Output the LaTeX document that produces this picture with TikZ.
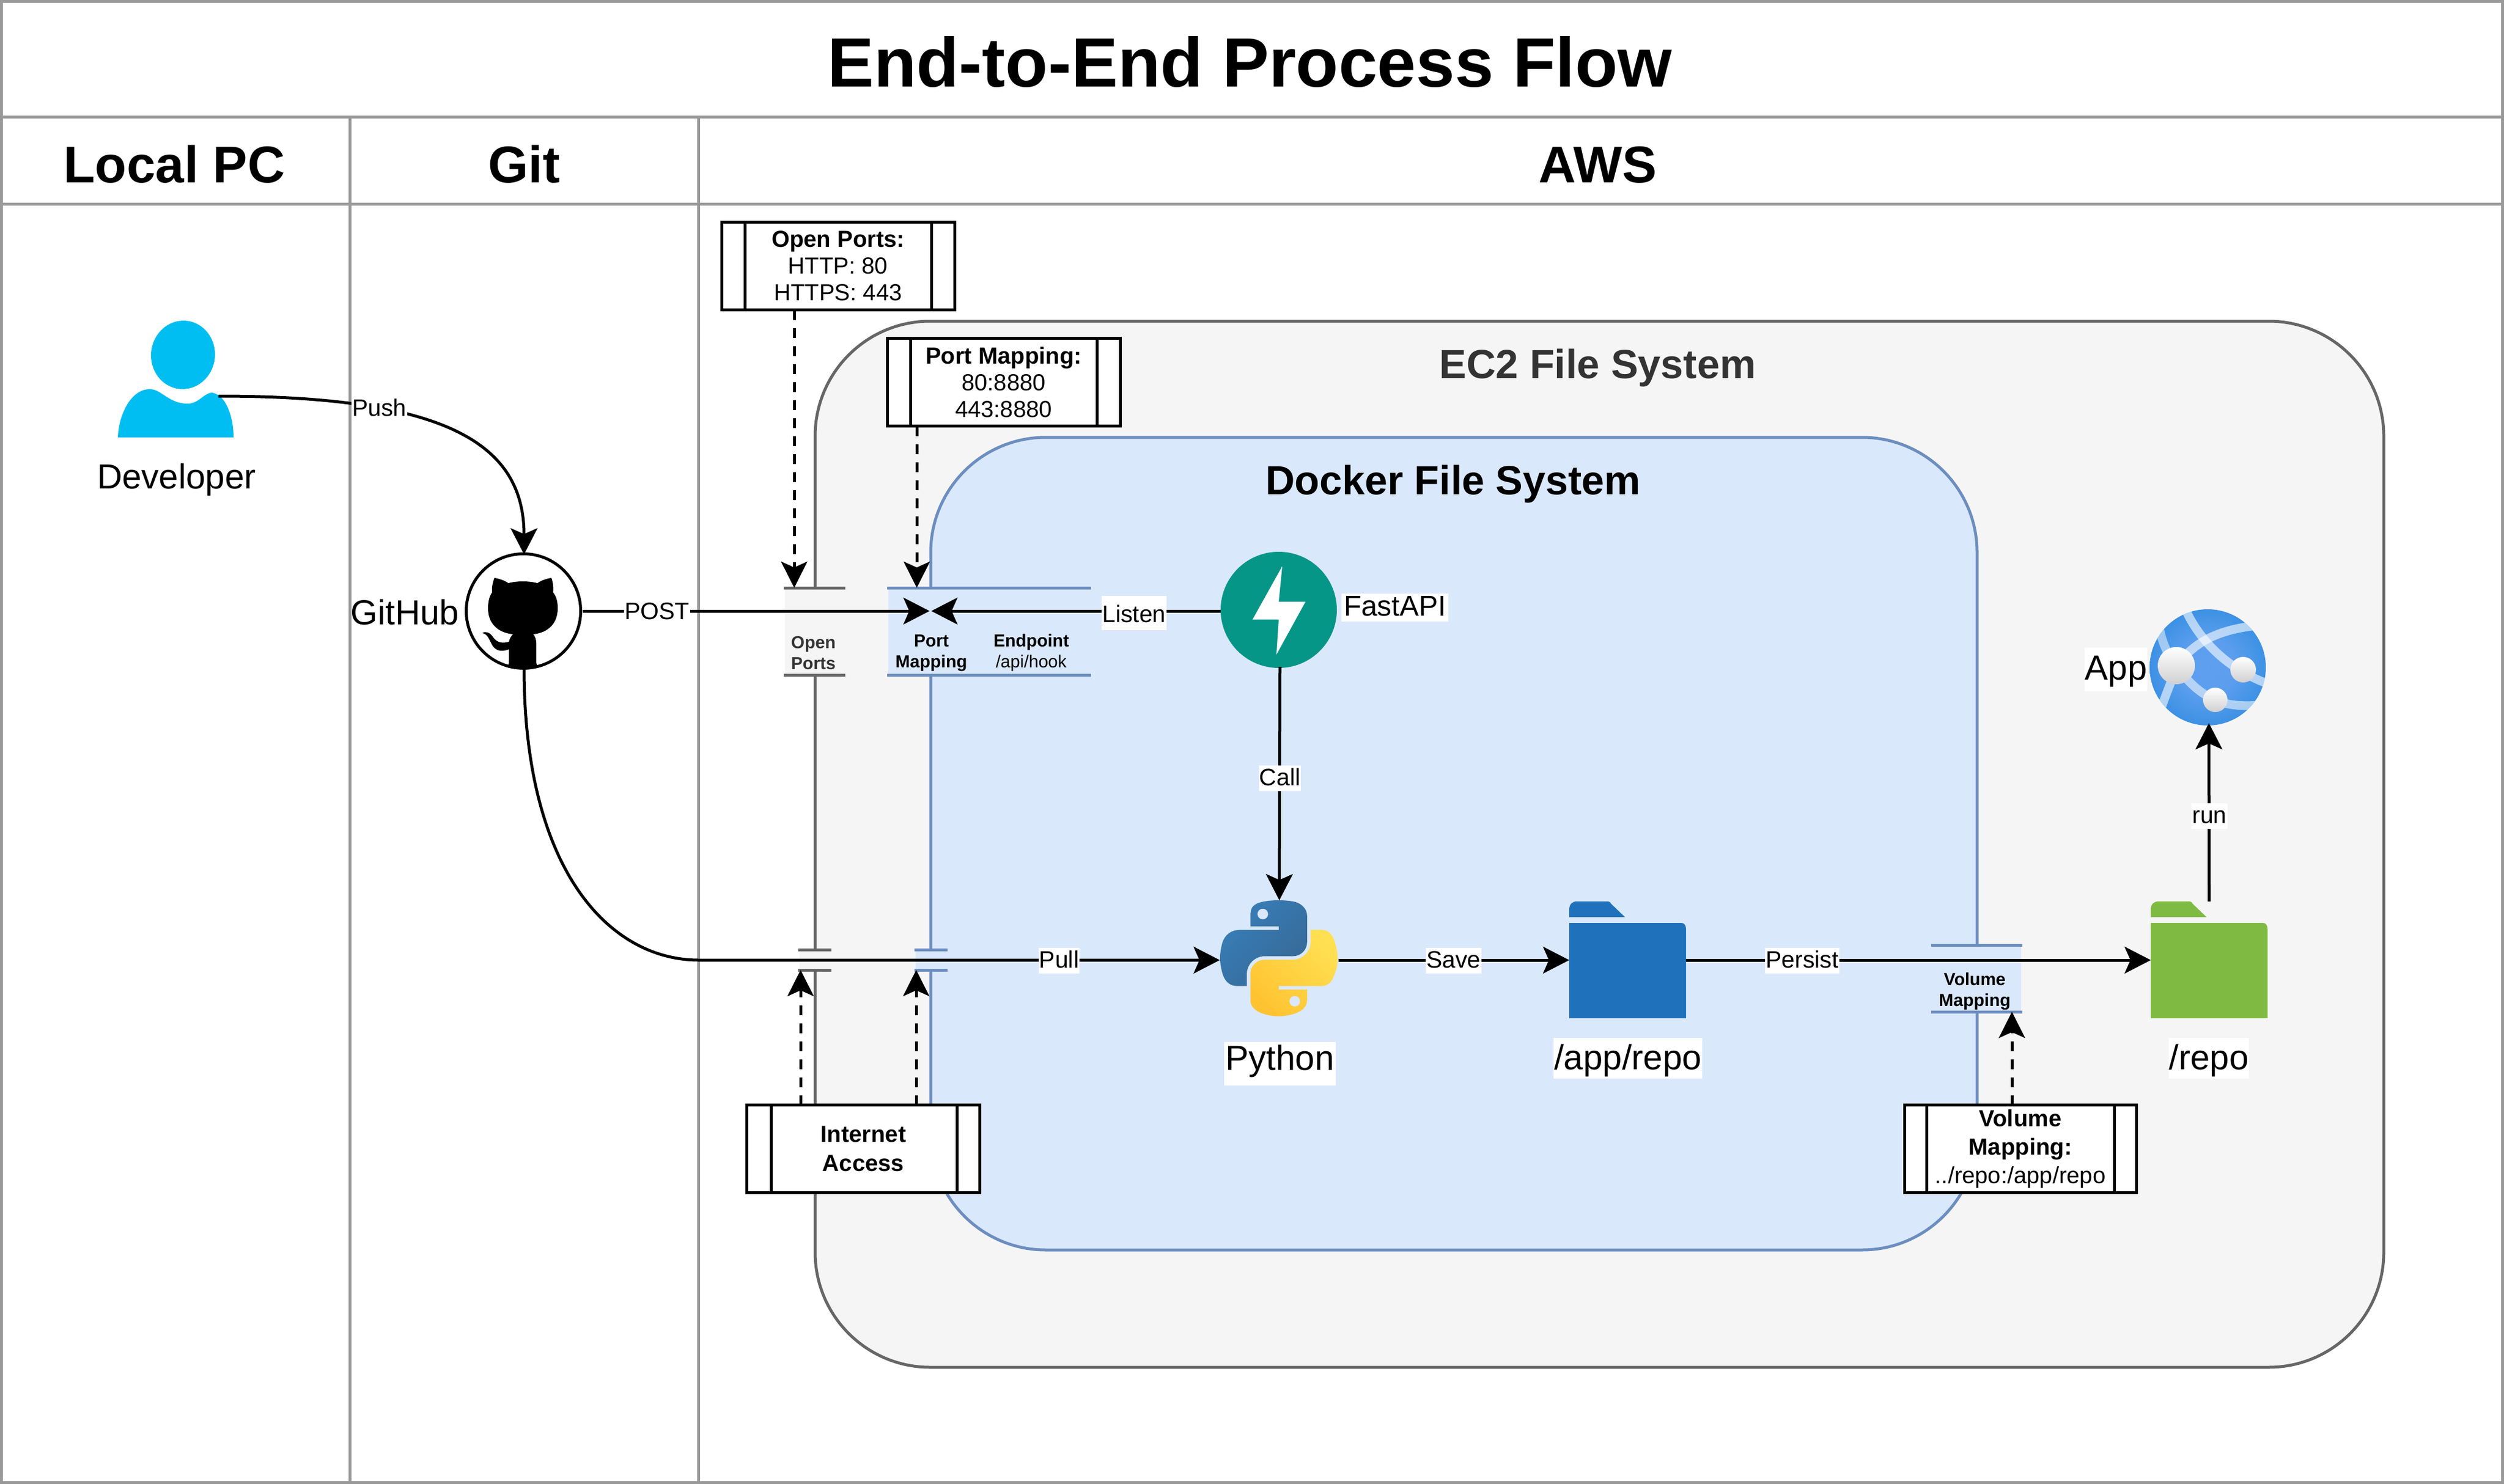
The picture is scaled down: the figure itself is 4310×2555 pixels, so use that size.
\documentclass[tikz,border=0pt]{standalone}
\usepackage{fontspec}
\setmainfont{Liberation Sans}
\usetikzlibrary{arrows.meta,shapes.geometric}
\newcommand\fsz[2]{\fontsize{#1}{#2}\selectfont}
\definecolor{frame}{HTML}{999999}
\definecolor{ecfill}{HTML}{F5F5F5}
\definecolor{ecline}{HTML}{666666}
\definecolor{dkfill}{HTML}{DAE8FC}
\definecolor{dkline}{HTML}{6C8EBF}
\definecolor{txtdark}{HTML}{333333}
\definecolor{devblue}{HTML}{00BEF2}
\definecolor{fastgreen}{HTML}{059688}
\definecolor{folderblue}{HTML}{1F71BB}
\definecolor{foldergreen}{HTML}{7FBB42}
\pgfdeclareradialshading{appglobe}{\pgfpoint{0bp}{0bp}}{rgb(0bp)=(0.37,0.63,0.94);rgb(12bp)=(0.36,0.62,0.93);rgb(50bp)=(0,0.47,0.83)}
\tikzset{
  flow/.style={line width=5pt,-{Stealth[length=45pt,width=46pt,inset=10pt]}},
  dashflow/.style={line width=5pt,dash pattern=on 17pt off 14pt,-{Stealth[length=45pt,width=45pt,inset=10pt]}},
  framed/.style={draw=frame,line width=5pt},
  procbox/.style={draw=black,fill=white,line width=5pt,inner sep=0pt,outer sep=0pt,align=center,font=\fsz{40}{46}},
  proccol/.style={draw=black,line width=5pt},
  edgelabel/.style={fill=white,inner xsep=1pt,inner ysep=0pt,anchor=base,text height=34pt,text depth=10pt,font=\fsz{41}{41}},
  namelabel/.style={fill=white,inner xsep=1pt,inner ysep=0pt,anchor=base,text height=46pt,text depth=16pt,font=\fsz{60}{60}},
  iconbox/.style={inner sep=0pt,outer sep=0pt},
  graybar/.style={fill=ecfill,inner sep=0pt,outer sep=0pt},
  bluebar/.style={fill=dkfill,inner sep=0pt,outer sep=0pt},
  grayedge/.style={draw=ecline,line width=5pt},
  blueedge/.style={draw=dkline,line width=5pt},
  smalltext/.style={inner sep=0pt,align=center,font=\fsz{30}{36}\bfseries},
}
\begin{document}
\begin{tikzpicture}[x=1pt,y=-1pt]
\useasboundingbox (0,0) rectangle (4310,2555);
\fill[white] (0,0) rectangle (4310,2555);
% swimlane frame
\draw[framed] (2.5,2.5) rectangle (4307.5,2552.5);
\coordinate (titleL) at (2.5,201.5);
\coordinate (titleR) at (4307.5,201.5);
\coordinate (headL) at (2.5,352);
\coordinate (headR) at (4307.5,352);
\coordinate (laneAtop) at (602,201);
\coordinate (laneAbot) at (602,2552);
\coordinate (laneBtop) at (1202.5,201);
\coordinate (laneBbot) at (1202.5,2552);
\draw[framed] (titleL) -- (titleR);
\draw[framed] (headL) -- (headR);
\draw[framed] (laneAtop) -- (laneAbot);
\draw[framed] (laneBtop) -- (laneBbot);
\node[anchor=base,font=\fsz{120}{120}\bfseries,inner sep=0pt] (title) at (2151,150) {End-to-End Process Flow};
\node[anchor=base,font=\fsz{89}{89}\bfseries,inner sep=0pt] (laneLocal) at (300,315) {Local PC};
\node[anchor=base,font=\fsz{89}{89}\bfseries,inner sep=0pt] (laneGit) at (902,315) {Git};
\node[anchor=base,font=\fsz{89}{89}\bfseries,inner sep=0pt] (laneAws) at (2750,315) {AWS};
% containers
\draw[draw=ecline,fill=ecfill,line width=5pt,rounded corners=198pt] (1403,553) rectangle (4103,2354);
\draw[draw=dkline,fill=dkfill,line width=5pt,rounded corners=198pt] (1602,753) rectangle (3403,2152);
\node[anchor=base,font=\fsz{70}{70}\bfseries,text=txtdark,inner sep=0pt] (ecTitle) at (2750,651) {EC2 File System};
\node[anchor=base,font=\fsz{70}{70}\bfseries,inner sep=0pt] (dkTitle) at (2501,851) {Docker File System};
% gaps in the container outlines
\node[graybar,minimum width=102pt,minimum height=150pt] (openbar) at (1402,1087) {};
\node[bluebar,minimum width=347pt,minimum height=150pt] (portbar) at (1702.5,1087) {};
\node[graybar,minimum width=53pt,minimum height=35pt] (opengap) at (1402.5,1652.5) {};
\node[bluebar,minimum width=53pt,minimum height=35pt] (portgap) at (1602.5,1652.5) {};
\node[bluebar,minimum width=153pt,minimum height=115pt] (volbar) at (3402.5,1684.5) {};
\draw[grayedge] ([xshift=-2pt]openbar.north west) -- ([xshift=2pt]openbar.north east);
\draw[grayedge] ([xshift=-2pt]openbar.south west) -- ([xshift=2pt]openbar.south east);
\draw[blueedge] ([xshift=-2pt]portbar.north west) -- ([xshift=2pt]portbar.north east);
\draw[blueedge] ([xshift=-2pt]portbar.south west) -- ([xshift=2pt]portbar.south east);
\draw[grayedge] ([xshift=-2pt]opengap.north west) -- ([xshift=2pt]opengap.north east);
\draw[grayedge] ([xshift=-2pt]opengap.south west) -- ([xshift=2pt]opengap.south east);
\draw[blueedge] ([xshift=-2pt]portgap.north west) -- ([xshift=2pt]portgap.north east);
\draw[blueedge] ([xshift=-2pt]portgap.south west) -- ([xshift=2pt]portgap.south east);
\draw[blueedge] ([xshift=-2pt]volbar.north west) -- ([xshift=2pt]volbar.north east);
\draw[blueedge] ([xshift=-2pt]volbar.south west) -- ([xshift=2pt]volbar.south east);
\node[smalltext,text=txtdark] (openbarText) at (1400,1124) {Open\\Ports};
\node[smalltext] (portbarText) at (1603,1124) {Port\\Mapping};
\node[smalltext] (endpointText) at (1775,1124) {Endpoint\\\mdseries /api/hook};
\node[smalltext] (volbarText) at (3399,1707) {Volume\\Mapping};
% developer
\node[iconbox,minimum width=199pt,minimum height=201pt] (dev) at (302.5,652.5) {};
\fill[devblue,rotate around={-6:(315,611)}] (315,611) ellipse [x radius=55,y radius=59];
\fill[devblue] (203,753) .. controls (204,715) and (225,670) .. (258,670) .. controls (278,670) and (290,695) .. (323,695) .. controls (342,695) and (352,676) .. (365,676) .. controls (390,680) and (402,720) .. (402,753) -- cycle;
\node[anchor=base,inner sep=0pt,font=\fsz{60}{60}] (devLabel) at (304,841) {Developer};
\coordinate (devhand) at (376,682);
% github
\node[circle,draw=black,fill=white,line width=5pt,minimum size=197pt,inner sep=0pt,outer sep=0pt] (github) at (901,1052) {};
\fill[black] (851,995) .. controls (858,996) and (868,999) .. (875,1004) .. controls (890,1000) and (910,1000) .. (925,1004) .. controls (932,999) and (942,996) .. (949,995) .. controls (952,1003) and (953,1012) .. (952,1020) .. controls (958,1027) and (960,1037) .. (960,1047) .. controls (960,1072) and (945,1089) .. (918,1092) .. controls (921,1096) and (923,1101) .. (923,1107) -- (923,1141) .. controls (923,1144) and (925,1146) .. (927,1146) .. controls (910,1151) and (890,1151) .. (873,1146) .. controls (875,1146) and (876,1144) .. (876,1141) -- (876,1118) .. controls (865,1122) and (855,1122) .. (848,1112) .. controls (843,1104) and (840,1091) .. (830,1090) .. controls (836,1086) and (843,1089) .. (848,1096) .. controls (855,1107) and (865,1108) .. (876,1105) .. controls (877,1100) and (879,1096) .. (883,1092) .. controls (855,1089) and (840,1072) .. (840,1047) .. controls (840,1037) and (842,1027) .. (847,1020) .. controls (846,1012) and (848,1003) .. (851,995) -- cycle;
\node[anchor=base,inner sep=0pt,font=\fsz{60}{60}] (githubLabel) at (697,1075) {GitHub};
% fastapi
\node[circle,fill=fastgreen,minimum size=200pt,inner sep=0pt,outer sep=0pt] (fastapi) at (2201,1050) {};
\fill[white] (2207,975) -- (2156,1066.5) -- (2201,1066.5) -- (2197,1127) -- (2247,1036) -- (2201,1036) -- cycle;
\node[namelabel,font=\fsz{49.5}{49.5},text height=38pt,text depth=10pt,inner xsep=4pt] (fastapiLabel) at (2401,1060) {FastAPI};
% python
\node[iconbox,minimum width=201pt,minimum height=206pt] (python) at (2200,1653) {};
\begin{scope}[shift={(2100,1550)},x=1.82pt,y=-1.777pt]
\shade[left color={rgb,255:red,56;green,126;blue,184},right color={rgb,255:red,54;green,105;blue,150},shading angle=45]
 (54.919,0.001) .. controls (50.335,0.022) and (45.958,0.413) .. (42.106,1.094) .. controls (30.760,3.099) and (28.700,7.295) .. (28.700,15.032) -- (28.700,25.25) -- (55.513,25.25) -- (55.513,28.656) -- (18.637,28.656) .. controls (10.845,28.656) and (4.022,33.340) .. (1.888,42.250) .. controls (-0.574,52.463) and (-0.683,58.836) .. (1.888,69.500) .. controls (3.794,77.438) and (8.345,83.094) .. (16.138,83.094) -- (25.356,83.094) -- (25.356,70.844) .. controls (25.356,61.994) and (33.013,54.188) .. (42.106,54.188) -- (68.888,54.188) .. controls (76.342,54.188) and (82.294,48.050) .. (82.294,40.562) -- (82.294,15.032) .. controls (82.294,7.766) and (76.164,2.308) .. (68.888,1.094) .. controls (64.282,0.327) and (59.503,-0.020) .. (54.919,0.001) -- cycle;
\fill[dkfill] (40.419,13.33) ellipse [x radius=5.03,y radius=5.1];
\shade[left color={rgb,255:red,255;green,224;blue,82},right color={rgb,255:red,255;green,195;blue,49},shading angle=-45]
 (85.638,28.656) -- (85.638,40.562) .. controls (85.638,49.794) and (77.811,57.563) .. (68.888,57.563) -- (42.106,57.563) .. controls (34.770,57.563) and (28.700,63.841) .. (28.700,71.188) -- (28.700,96.719) .. controls (28.700,103.986) and (35.019,108.260) .. (42.106,110.344) .. controls (50.594,112.839) and (58.733,113.290) .. (68.888,110.344) .. controls (75.638,108.389) and (82.294,104.456) .. (82.294,96.719) -- (82.294,86.5) -- (55.513,86.5) -- (55.513,83.094) -- (95.700,83.094) .. controls (103.493,83.094) and (106.397,77.658) .. (109.106,69.500) .. controls (111.905,61.102) and (111.786,53.025) .. (109.106,42.250) .. controls (107.181,34.492) and (103.503,28.656) .. (95.700,28.656) -- cycle;
\fill[dkfill] (70.638,97.8) ellipse [x radius=5.03,y radius=5.1];
\end{scope}
\node[namelabel,text depth=27pt,text height=48pt,inner xsep=3pt] (pythonLabel) at (2203,1842) {Python};
% folders
\node[iconbox,minimum width=201pt,minimum height=202pt] (appfolder) at (2801.5,1653) {};
\fill[folderblue] (2701,1579) -- (2701,1566) .. controls (2701,1557) and (2706,1552) .. (2714,1552) -- (2768,1552) .. controls (2771,1552) and (2772,1554) .. (2773,1556) -- (2797,1579) -- cycle;
\fill[folderblue] (2701,1589) -- (2894,1589) .. controls (2899,1589) and (2902,1593) .. (2902,1600) -- (2902,1753) -- (2701,1753) -- cycle;
\node[namelabel,text height=54pt,text depth=16pt] (appfolderLabel) at (2802,1841) {/app/repo};
\node[iconbox,minimum width=201pt,minimum height=202pt] (repofolder) at (3802.5,1653) {};
\fill[foldergreen] (3702,1579) -- (3702,1566) .. controls (3702,1557) and (3707,1552) .. (3715,1552) -- (3769,1552) .. controls (3772,1552) and (3773,1554) .. (3774,1556) -- (3798,1579) -- cycle;
\fill[foldergreen] (3702,1589) -- (3895,1589) .. controls (3900,1589) and (3903,1593) .. (3903,1600) -- (3903,1753) -- (3702,1753) -- cycle;
\node[namelabel,text height=54pt,text depth=16pt] (repofolderLabel) at (3802,1841) {/repo};
% app globe
\node[circle,iconbox,minimum size=200pt] (app) at (3800,1149) {};
\begin{scope}
\clip (3800,1149) circle [radius=100];
\shade[shading=appglobe] (3700,1049) rectangle (3900,1249);
\draw[white,opacity=.6,line width=15pt] (3762,1050) .. controls (3785,1100) and (3830,1150) .. (3905,1178);
\draw[white,opacity=.6,line width=15pt] (3746,1146) .. controls (3775,1110) and (3810,1083) .. (3895,1076);
\draw[white,opacity=.5,line width=15pt] (3716,1075) .. controls (3720,1105) and (3732,1130) .. (3746,1146);
\draw[white,opacity=.6,line width=15pt] (3742,1160) .. controls (3735,1180) and (3728,1195) .. (3718,1225);
\draw[white,opacity=.55,line width=15pt] (3746,1146) .. controls (3770,1180) and (3790,1195) .. (3813,1205) .. controls (3835,1215) and (3860,1216) .. (3890,1214);
\end{scope}
\shade[top color=white,bottom color={rgb,255:red,208;green,208;blue,208}] (3746,1146) circle [radius=32];
\shade[top color=white,bottom color={rgb,255:red,208;green,208;blue,208}] (3861,1153) circle [radius=22];
\shade[top color=white,bottom color={rgb,255:red,208;green,208;blue,208}] (3813,1205) circle [radius=21];
\node[namelabel,text height=55pt,text depth=20pt] (appLabel) at (3642,1170) {App};
% connectors
\coordinate (portinL) at (1600,1052);
\coordinate (portinR) at (1603,1052);
\coordinate (pullbend) at (1203,1653);
\coordinate (xOpenTop) at (1367,0);
\coordinate (xPortTop) at (1578,0);
\coordinate (xOpenBot) at (1378,0);
\coordinate (xPortBot) at (1577,0);
\coordinate (xVol) at (3463,0);
\draw[flow] (devhand) .. controls (760,682) and (902,760) .. ([xshift=1pt,yshift=-1pt]github.north);
\draw[flow] ([xshift=3pt]github.east |- portinL) -- (portinL);
\draw[flow] (fastapi.west |- portinR) -- (portinR);
\draw[flow] ([xshift=2pt,yshift=2pt]fastapi.south) -- ([xshift=2pt]python.north);
\draw[flow] ([xshift=1pt,yshift=1pt]github.south) .. controls (902,1500) and (1050,1653) .. (pullbend) -- (python.west);
\draw[flow] ([xshift=3pt]python.east) -- (appfolder.west);
\draw[flow] (appfolder.east) -- (repofolder.west);
\draw[flow] (repofolder.north) -- ([xshift=2pt,yshift=4pt]app.south);
% process boxes
\node[procbox,minimum width=401pt,minimum height=151pt] (openbox) at (1442.5,458) {\textbf{Open Ports:}\\HTTP: 80\\HTTPS: 443};
\draw[proccol] (1282,382.5) -- (1282,533.5);
\draw[proccol] (1603,382.5) -- (1603,533.5);
\node[procbox,minimum width=401pt,minimum height=151pt] (portbox) at (1727.5,658) {\textbf{Port Mapping:}\\80:8880\\443:8880};
\draw[proccol] (1567,582.5) -- (1567,733.5);
\draw[proccol] (1888,582.5) -- (1888,733.5);
\node[procbox,font=\fsz{40}{50},minimum width=401pt,minimum height=151pt] (inetbox) at (1486,1978) {\textbf{Internet}\\\textbf{Access}};
\draw[proccol] (1327,1903) -- (1327,2054);
\draw[proccol] (1647,1903) -- (1647,2054);
\node[procbox,font=\fsz{40}{49},minimum width=399pt,minimum height=151pt] (volbox) at (3477.5,1978) {\textbf{Volume}\\\textbf{Mapping:}\\../repo:/app/repo};
\draw[proccol] (3316,1903) -- (3316,2054);
\draw[proccol] (3639,1903) -- (3639,2054);
\draw[dashflow] (xOpenTop |- openbox.south) -- (xOpenTop |- openbar.north);
\draw[dashflow] (xPortTop |- portbox.south) -- (xPortTop |- portbar.north);
\draw[dashflow] (xOpenBot |- inetbox.north) -- (xOpenBot |- opengap.south);
\draw[dashflow] (xPortBot |- inetbox.north) -- (xPortBot |- portgap.south);
\draw[dashflow] (xVol |- volbox.north) -- (xVol |- volbar.south);
% connector labels
\node[edgelabel] (pushLabel) at (653,716) {Push};
\node[edgelabel] (postLabel) at (1131,1066) {POST};
\node[edgelabel,text height=45pt,text depth=14pt] (listenLabel) at (1952,1071) {Listen};
\node[edgelabel] (callLabel) at (2203,1352) {Call};
\node[edgelabel] (pullLabel) at (1823,1666) {Pull};
\node[edgelabel] (saveLabel) at (2502,1666) {Save};
\node[edgelabel] (persistLabel) at (3102,1666) {Persist};
\node[edgelabel] (runLabel) at (3803,1417) {run};
\end{tikzpicture}
\end{document}
